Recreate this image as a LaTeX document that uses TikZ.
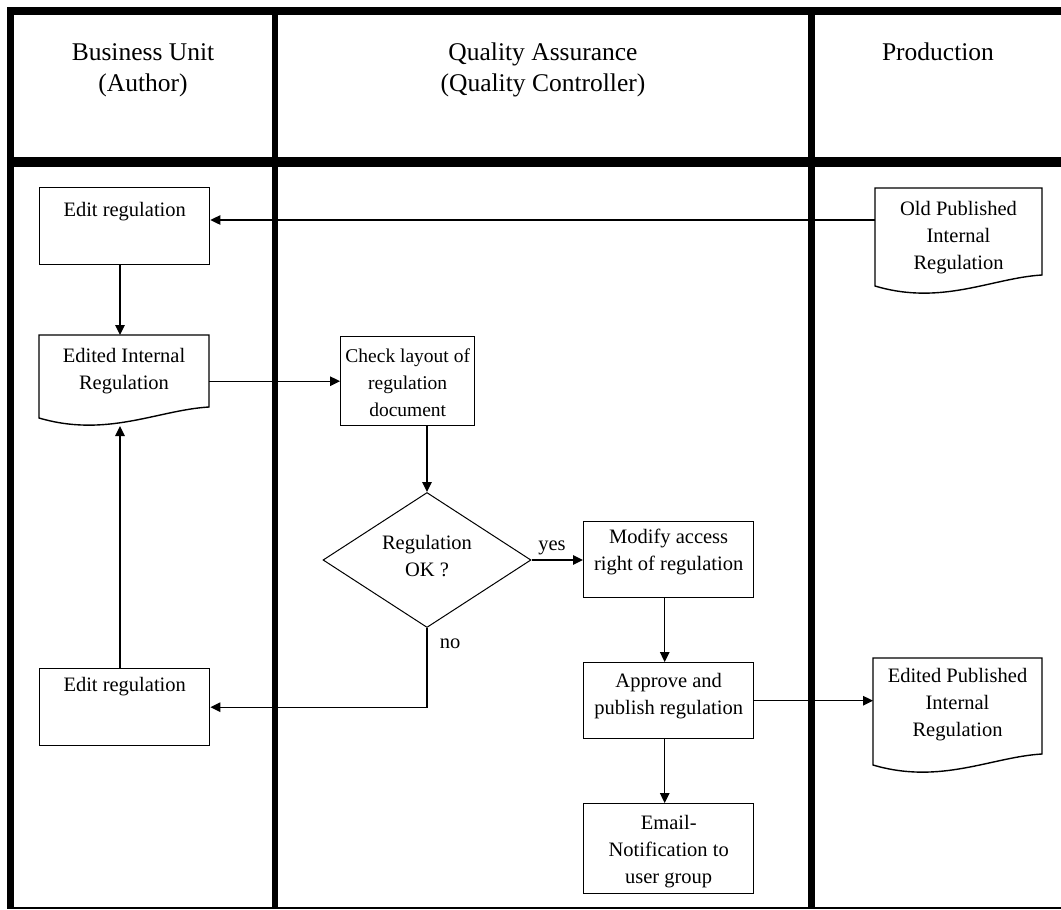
\documentclass[tikz,border=0pt]{standalone}
\usepackage{fontspec}
\setmainfont{Liberation Serif}
\usetikzlibrary{shapes.geometric,arrows.meta,calc}

% text sizes for lane headers and for the flow shapes
\newcommand{\boxfont}{\fontsize{20.5}{27}\selectfont}
\newcommand{\narrowfont}{\fontsize{19.5}{27}\selectfont}
\newcommand{\hdrfont}{\fontsize{25.5}{31}\selectfont}
% fixed-size text block: width, height, first baseline below top, text
\newcommand{\bx}[4]{\parbox[c][#2pt][t]{#1pt}{\centering\rule{0pt}{#3pt}#4}}
% outline of a document shape (wavy bottom edge) around a named node
\newcommand{\docoutline}[1]{%
  \draw[docline] (#1.north west) -- (#1.north east)
    -- ($(#1.south east)+(0,-11)$)
    .. controls ($(#1.south west)!0.7!(#1.south east)+(0,-8)$)
           and ($(#1.south west)!0.4!(#1.south east)+(0,20)$) .. (#1.south west)
    -- cycle;}

\begin{document}
\begin{tikzpicture}[x=1pt,y=-1pt,
  proc/.style={draw, line width=1.4pt, inner sep=0pt, anchor=north west, font=\boxfont},
  doc/.style={inner sep=0pt, outer sep=0pt, anchor=north west, font=\boxfont},
  docline/.style={line width=1.4pt, line join=miter},
  decision/.style={diamond, draw, line width=1pt, aspect=1.54,
    minimum width=208pt, minimum height=135pt, inner sep=0pt, font=\boxfont},
  conn/.style={draw, line width=1.4pt, -{Triangle[length=10pt,width=9.5pt]}},
  lbl/.style={anchor=base, inner sep=0pt, font=\boxfont},
  hdr/.style={anchor=north, inner sep=0pt, align=center, font=\hdrfont},
  rule/.style={line width=#1, line cap=butt}]

\useasboundingbox (0,0) rectangle (1061,910);

% swimlane frame
\draw[rule=8pt]  (7,11) -- (1061,11);
\draw[rule=10pt] (7,162) -- (1061,162);
\draw[rule=2pt]  (7,908) -- (1061,908);
\draw[rule=7pt]  (10.5,7) -- (10.5,909);
\draw[rule=6pt]  (275,7) -- (275,909);
\draw[rule=7pt]  (811.5,7) -- (811.5,909);

% lane headers
\node[hdr] (hbu) at (143,39) {\rule{0pt}{21pt}Business Unit\\(Author)};
\node[hdr] (hqa) at (543,39) {\rule{0pt}{21pt}Quality Assurance\\(Quality Controller)};
\node[hdr] (hpr) at (938,39) {\rule{0pt}{21pt}Production};

% business unit lane
\node[proc] (e1) at (39,187) {\bx{170}{77}{29}{Edit regulation}};
\node[doc]  (ei) at (39,335) {\bx{170}{83}{27}{Edited Internal\\Regulation}};
\docoutline{ei}
\node[proc] (e2) at (39,668) {\bx{170}{77}{23}{Edit regulation}};

% quality assurance lane
\node[proc, font=\narrowfont] (cl) at (340,336) {\bx{134}{89}{26}{Check layout of\\regulation\\document}};
\node[decision] (dia) at (427,560) {\bx{100}{60}{19}{Regulation\\OK ?}};
\node[proc] (mod) at (583,521) {\bx{170}{76}{22}{Modify access\\right of regulation}};
\node[proc] (ap)  at (583,662) {\bx{170}{76}{25}{Approve and\\publish regulation}};
\node[proc] (em)  at (583,803) {\bx{170}{90}{26}{Email-\\Notification to\\user group}};

% production lane
\node[doc] (op) at (875,188) {\bx{167}{98}{27}{Old Published\\Internal\\Regulation}};
\docoutline{op}
\node[doc] (ep) at (873,658) {\bx{169}{107}{24}{Edited Published\\Internal\\Regulation}};
\docoutline{ep}

% connector end points
\coordinate (opin) at ($(op.north west)+(0,32)$);
\coordinate (eib)  at ($(ei.south)+(-4,8)$);
\coordinate (apx)  at ($(ap.north)+(-4,0)$);

% connectors
\draw[conn] (opin) -- (opin -| e1.east);
\draw[conn] (e1.south -| eib) -- (ei.north -| eib);
\draw[conn] (ei.east |- cl.west) -- (cl.west);
\draw[conn] (dia.north |- cl.south) -- (dia.north);
\draw[conn] (dia.east) -- (dia.east -| mod.west);
\draw[conn] (mod.south -| apx) -- (apx);
\draw[conn] (dia.south) |- (e2.east);
\draw[conn] (e2.north -| eib) -- (eib);
\draw[conn] (ap.east) -- (ap.east -| ep.west);
\draw[conn] (ap.south -| apx) -- (em.north -| apx);

% decision labels
\node[lbl] (yes) at (552,550) {yes};
\node[lbl] (no)  at (450,648) {no};

\end{tikzpicture}
\end{document}
